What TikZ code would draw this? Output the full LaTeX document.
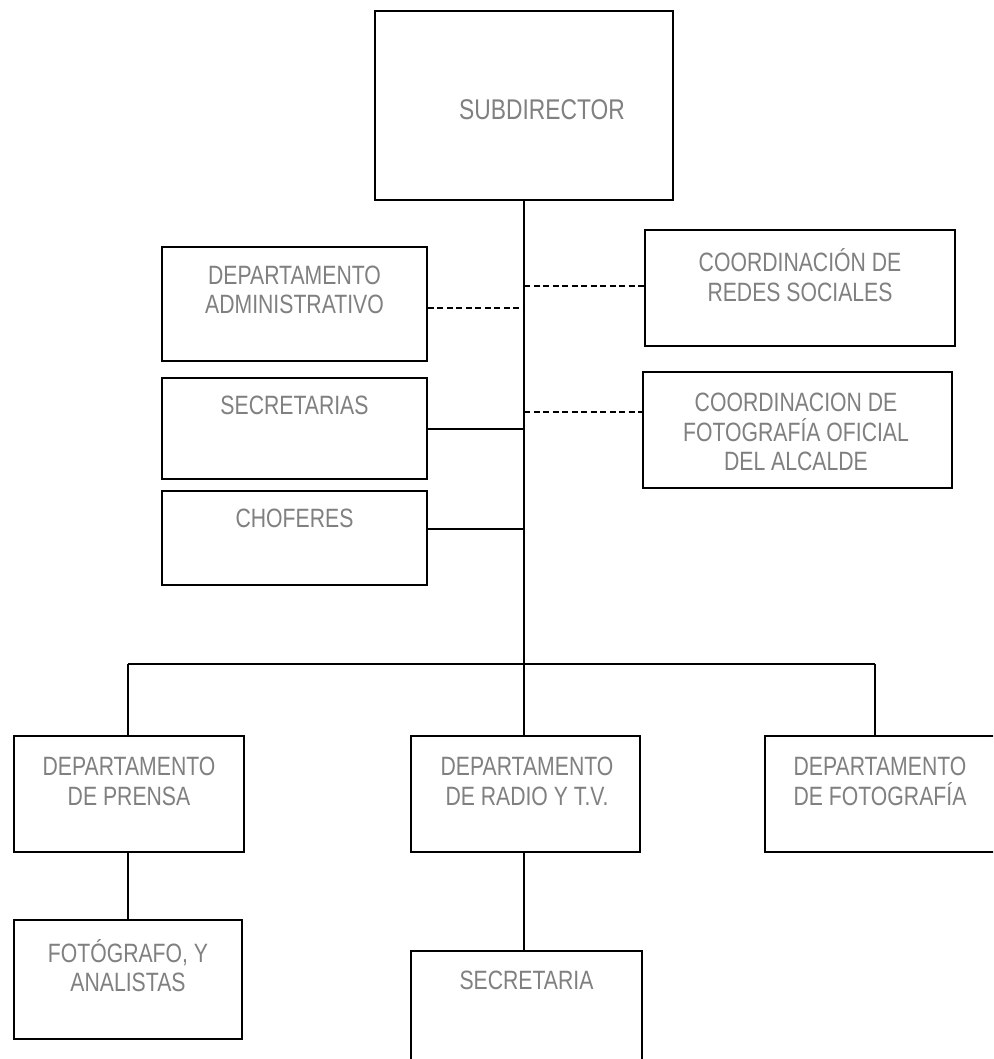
\documentclass[tikz,border=0pt]{standalone}
\usepackage{fontspec}
\setmainfont{Liberation Sans}[FakeStretch=0.8]
\begin{document}
\begin{tikzpicture}[x=1pt,y=-1pt,
  box/.style={draw=black,line width=1.6pt,fill=white,inner sep=0pt},
  txt/.style={text=black!50,align=center,inner sep=0pt,font=\fontsize{26.5}{29.5}\selectfont},
  big/.style={text=black!50,align=center,inner sep=0pt,font=\fontsize{28.5}{32}\selectfont},
  conn/.style={draw=black,line width=1.3pt},
  dconn/.style={draw=black,line width=1.5pt,dash pattern=on 6pt off 3.5pt}]
\useasboundingbox (0,0) rectangle (993,1059);
\clip (0,0) rectangle (993,1059);
% boxes
\node[box,minimum width=298pt,minimum height=189pt] (sub) at (524,105.5) {};
\node[box,minimum width=265pt,minimum height=114pt] (adm) at (294.5,304) {};
\node[box,minimum width=310pt,minimum height=116pt] (red) at (800,288) {};
\node[box,minimum width=265pt,minimum height=101pt] (sec) at (294.5,428.5) {};
\node[box,minimum width=309pt,minimum height=116pt] (fot) at (797.5,430) {};
\node[box,minimum width=265pt,minimum height=94pt] (cho) at (294.5,538) {};
\node[box,minimum width=230pt,minimum height=116pt] (pre) at (129,794) {};
\node[box,minimum width=229pt,minimum height=116pt] (rad) at (525.5,794) {};
\node[box,minimum width=240pt,minimum height=116pt] (dfo) at (885,794) {};
\node[box,minimum width=228pt,minimum height=119pt] (ana) at (128,979.5) {};
\node[box,minimum width=231pt,minimum height=130pt] (sria) at (526.5,1016) {};
% texts
\node[big] (tsub) at (542,110) {SUBDIRECTOR};
\node[txt] (tadm) at (294.5,290) {DEPARTAMENTO\\ADMINISTRATIVO};
\node[txt] (tred) at (800,275) {COORDINACIÓN DE\\REDES SOCIALES};
\node[txt] (tsec) at (294.5,405) {SECRETARIAS};
\node[txt] (tfot) at (796,432) {COORDINACION DE\\FOTOGRAFÍA OFICIAL\\DEL ALCALDE};
\node[txt] (tcho) at (294.5,518) {CHOFERES};
\node[txt] (tpre) at (129,781.5) {DEPARTAMENTO\\DE PRENSA};
\node[txt] (trad) at (527,781.5) {DEPARTAMENTO\\DE RADIO Y T.V.};
\node[txt] (tdfo) at (880,781.5) {DEPARTAMENTO\\DE FOTOGRAFÍA};
\node[txt] (tana) at (128,965.5) {FOTÓGRAFO, Y\\ANALISTAS};
\node[txt] (tsria) at (526.5,980) {SECRETARIA};
% trunk coordinates
\coordinate (bus) at (524,664);
\coordinate (ja) at (524,308);
\coordinate (jr) at (524,286);
\coordinate (js) at (524,429);
\coordinate (jf) at (524,412);
\coordinate (jc) at (524,529);
\coordinate (bl) at (128,664);
\coordinate (br) at (875,664);
% connectors
\draw[conn] (sub.south -| ja) -- (bus);
\draw[dconn] (adm.east |- ja) -- (ja);
\draw[dconn] (jr) -- (red.west |- jr);
\draw[conn] (sec.east |- js) -- (js);
\draw[dconn] (jf) -- (fot.west |- jf);
\draw[conn] (cho.east |- jc) -- (jc);
\draw[conn,line width=1.8pt] (bl) -- (br);
\draw[conn] (bl) -- (pre.north -| bl);
\draw[conn] (bus) -- (rad.north -| bus);
\draw[conn] (br) -- (dfo.north -| br);
\draw[conn] (pre.south -| bl) -- (ana.north -| bl);
\draw[conn] (rad.south -| bus) -- (sria.north -| bus);
\end{tikzpicture}
\end{document}
